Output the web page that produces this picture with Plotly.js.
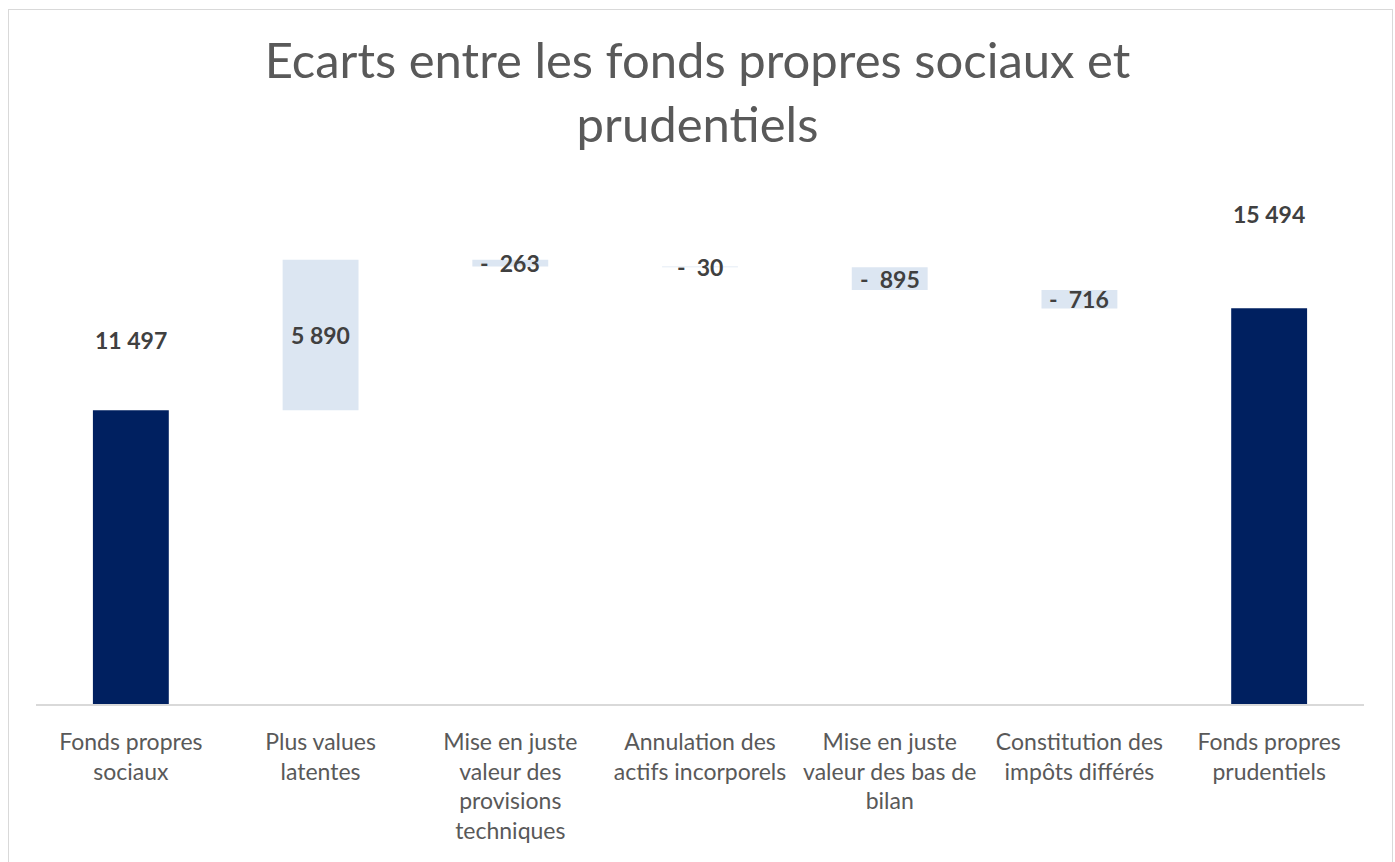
<!DOCTYPE html>
<html>
<head>
<meta charset="utf-8">
<script src="https://cdn.plot.ly/plotly-3.0.1.min.js"></script>
<style>
  html, body { margin: 0; padding: 0; background: #fff; }
  #chart { position: absolute; left: 0; top: 0; width: 1395px; height: 862px; }
  #frame { position: absolute; left: 8px; top: 9px; width: 1383px; height: 900px;
           border: 1px solid #d9d9d9; pointer-events: none; }
</style>
</head>
<body>
<div id="chart"></div>
<div id="frame"></div>
<script>
// Ecarts entre fonds propres sociaux et prudentiels (waterfall)
var categories = [
    'Fonds propres<br>sociaux',
    'Plus values<br>latentes',
    'Mise en juste<br>valeur des<br>provisions<br>techniques',
    'Annulation des<br>actifs incorporels',
    'Mise en juste<br>valeur des bas de<br>bilan',
    'Constitution des<br>impôts différés',
    'Fonds propres<br>prudentiels'
];
var values = [11497, 5890, -263, -30, -895, -716, 15494];
var measures = ['absolute', 'relative', 'relative', 'relative', 'relative', 'relative', 'absolute'];

var NAVY = '#002060';
var LIGHT = '#dce6f2';

function fmt(v) {
    var s = String(Math.abs(v)).replace(/\B(?=(\d{3})+(?!\d))/g, '\u00a0');
    return v < 0 ? '-\u00a0\u00a0' + s : s;
}

// label positions: middle of the floating bars, above the total bars
var annotations = [];
var running = 0;
for (var i = 0; i < values.length; i++) {
    var y;
    if (measures[i] === 'absolute') {
        running = values[i];
        y = values[i] * 1.238;
    } else {
        y = running + values[i] / 2;
        running += values[i];
    }
    annotations.push({
        x: i, y: y, xref: 'x', yref: 'y',
        text: fmt(values[i]),
        showarrow: false,
        font: { family: 'Lato, sans-serif', size: 23, color: '#404040', weight: 'bold' }
    });
}

var trace = {
    type: 'waterfall',
    x: [0, 1, 2, 3, 4, 5, 6],
    y: values,
    measure: measures,
    width: 0.4,
    textposition: 'none',
    connector: { visible: false },
    increasing: { marker: { color: LIGHT } },
    decreasing: { marker: { color: LIGHT } },
    totals: { marker: { color: NAVY } },
    hoverinfo: 'x+y'
};

// absolute bars need the navy fill too
trace.marker = { color: values.map(function (v, i) { return measures[i] === 'absolute' ? NAVY : LIGHT; }) };

var layout = {
    width: 1395,
    height: 862,
    margin: { t: 193, r: 31, b: 158, l: 36 },
    paper_bgcolor: '#fff',
    plot_bgcolor: '#fff',
    showlegend: false,
    title: {
        text: 'Ecarts entre les fonds propres sociaux et<br>prudentiels',
        font: { family: 'Lato, sans-serif', size: 49, color: '#595959' },
        x: 0.5, xanchor: 'center',
        y: 0.909, yanchor: 'top', yref: 'container'
    },
    xaxis: {
        tickmode: 'array',
        tickvals: [0, 1, 2, 3, 4, 5, 6],
        ticktext: categories,
        range: [-0.5, 6.5],
        showgrid: false,
        zeroline: false,
        showline: true,
        linecolor: '#d9d9d9',
        linewidth: 2,
        ticks: '',
        ticklabelstandoff: 16,
        tickfont: { family: 'Lato, sans-serif', size: 23, color: '#595959' }
    },
    yaxis: {
        range: [0, 20000],
        visible: false,
        showgrid: false,
        zeroline: false
    },
    annotations: annotations
};

Plotly.newPlot('chart', [trace], layout, { displayModeBar: false, staticPlot: true });
</script>
</body>
</html>
